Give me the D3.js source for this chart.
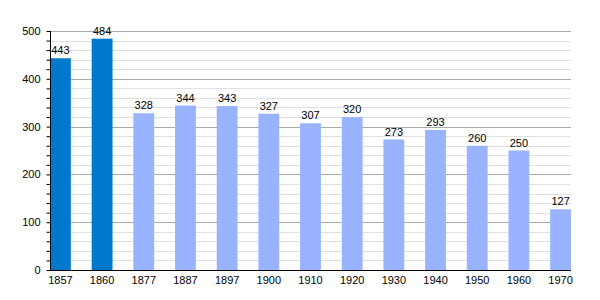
<!DOCTYPE html>
<html>
<head>
<meta charset="utf-8">
<script src="https://cdn.jsdelivr.net/npm/d3@7"></script>
<style>
  body { margin: 0; background: #fff; }
  text { font-family: "Liberation Sans", Arial, sans-serif; font-size: 11px; fill: #000; }
</style>
</head>
<body>
<div id="chart"></div>
<script>
// population by census year
const years = ["1857", "1860", "1877", "1887", "1897", "1900", "1910", "1920", "1930", "1940", "1950", "1960", "1970"];
const population = [443, 484, 328, 344, 343, 327, 307, 320, 273, 293, 260, 250, 127];
const yTicks = [0, 100, 200, 300, 400, 500];

const width = 600;
const height = 300;
const plotLeft = 50, plotRight = 571, plotTop = 31, plotBottom = 270;

const svg = d3.select("#chart")
  .append("svg")
  .attr("width", width)
  .attr("height", height);

const x = d3.scaleBand()
  .domain(years)
  .range([plotLeft, plotRight])
  .paddingInner(0.5)
  .paddingOuter(0);

const y = d3.scaleLinear()
  .domain([0, 500])
  .range([plotBottom, plotTop]);

// minor grid every 20
svg.append("g")
  .selectAll("line")
  .data(d3.range(20, 500, 20).filter(d => d % 100 !== 0))
  .enter()
  .append("line")
  .attr("x1", plotLeft).attr("x2", plotRight)
  .attr("y1", d => Math.round(y(d)) + 0.5)
  .attr("y2", d => Math.round(y(d)) + 0.5)
  .attr("stroke", "#e0e0e0");

// major grid every 100
svg.append("g")
  .selectAll("line")
  .data(yTicks.slice(1))
  .enter()
  .append("line")
  .attr("x1", plotLeft).attr("x2", plotRight)
  .attr("y1", d => Math.round(y(d)) + 0.5)
  .attr("y2", d => Math.round(y(d)) + 0.5)
  .attr("stroke", "#aaaaaa");

// bars
svg.append("g")
  .selectAll("rect")
  .data(years)
  .enter()
  .append("rect")
  .attr("x", d => x(d))
  .attr("y", (d, i) => y(population[i]))
  .attr("width", x.bandwidth())
  .attr("height", (d, i) => y(0) - y(population[i]))
  .attr("fill", (d, i) => i < 2 ? "#0079cc" : "#99b3ff");

// value labels
svg.append("g")
  .selectAll("text")
  .data(years)
  .enter()
  .append("text")
  .attr("x", d => x(d) + x.bandwidth() / 2)
  .attr("y", (d, i) => y(population[i]) - 4)
  .attr("text-anchor", "middle")
  .text((d, i) => population[i]);

// y axis with minor ticks
const yAxis = svg.append("g")
  .attr("transform", "translate(" + (plotLeft + 0.5) + ",0)")
  .call(d3.axisLeft(y).tickValues(d3.range(0, 520, 20)).tickSize(4)
    .tickFormat(d => d % 100 === 0 ? d : ""));
yAxis.select(".domain").attr("stroke", "#000").attr("d", "M0," + plotTop + "V" + plotBottom);
yAxis.selectAll(".tick line").attr("stroke", "#000");
yAxis.selectAll(".tick text").attr("x", -10)
  .style("font-size", "11px").style("font-family", "Liberation Sans, Arial, sans-serif");

// x axis
const xAxis = svg.append("g")
  .attr("transform", "translate(0," + (plotBottom + 0.5) + ")")
  .call(d3.axisBottom(x).tickSize(0).tickPadding(6));
xAxis.select(".domain").attr("stroke", "#000").attr("d", "M" + plotLeft + ",0H" + plotRight);
xAxis.selectAll(".tick text")
  .style("font-size", "11px").style("font-family", "Liberation Sans, Arial, sans-serif");
</script>
</body>
</html>
